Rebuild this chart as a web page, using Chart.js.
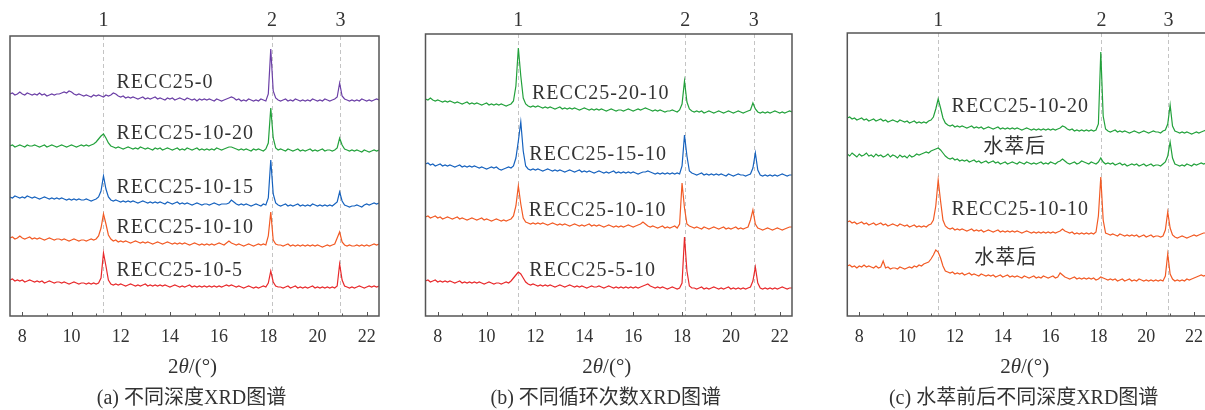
<!DOCTYPE html>
<html>
<head>
<meta charset="utf-8">
<script src="https://cdn.jsdelivr.net/npm/chart.js@4.4.1/dist/chart.umd.min.js"></script>
<style>
  html, body { margin: 0; padding: 0; background: #fff; overflow: hidden; width: 1205px; height: 410px; }
  .panel { position: absolute; top: 0; height: 410px; }
</style>
</head>
<body>
<div class="panel" style="left:0;width:400px"><canvas id="chartA" width="400" height="410"></canvas></div>
<div class="panel" style="left:410px;width:400px"><canvas id="chartB" width="400" height="410"></canvas></div>
<div class="panel" style="left:820px;width:400px"><canvas id="chartC" width="400" height="410"></canvas></div>
<script>
// 2theta grid (degrees)
const twoTheta = [
  7.5, 7.6, 7.7, 7.8, 7.9, 8.0, 8.1, 8.2, 8.3, 8.4,
  8.5, 8.6, 8.7, 8.8, 8.9, 9.0, 9.1, 9.2, 9.3, 9.4,
  9.5, 9.6, 9.7, 9.8, 9.9, 10.0, 10.1, 10.2, 10.3, 10.4,
  10.5, 10.6, 10.7, 10.8, 10.9, 11.0, 11.1, 11.2, 11.3, 11.4,
  11.5, 11.6, 11.7, 11.8, 11.9, 12.0, 12.1, 12.2, 12.3, 12.4,
  12.5, 12.6, 12.7, 12.8, 12.9, 13.0, 13.1, 13.2, 13.3, 13.4,
  13.5, 13.6, 13.7, 13.8, 13.9, 14.0, 14.1, 14.2, 14.3, 14.4,
  14.5, 14.6, 14.7, 14.8, 14.9, 15.0, 15.1, 15.2, 15.3, 15.4,
  15.5, 15.6, 15.7, 15.8, 15.9, 16.0, 16.1, 16.2, 16.3, 16.4,
  16.5, 16.6, 16.7, 16.8, 16.9, 17.0, 17.1, 17.2, 17.3, 17.4,
  17.5, 17.6, 17.7, 17.8, 17.9, 18.0, 18.1, 18.2, 18.3, 18.4,
  18.5, 18.6, 18.7, 18.8, 18.9, 19.0, 19.1, 19.2, 19.3, 19.4,
  19.5, 19.6, 19.7, 19.8, 19.9, 20.0, 20.1, 20.2, 20.3, 20.4,
  20.5, 20.6, 20.7, 20.8, 20.9, 21.0, 21.1, 21.2, 21.3, 21.4,
  21.5, 21.6, 21.7, 21.8, 21.9, 22.0, 22.1, 22.2, 22.3, 22.4,
  22.5
];
const xTicks = [8, 10, 12, 14, 16, 18, 20, 22];
const xMinorTicks = [9, 11, 13, 15, 17, 19, 21];
const peakNames = ["1", "2", "3"];

// (a) different depths, offset intensity
const aRecc0 = [
  222,223,221,222,224,222,221,223,222,221,
  222,221,223,221,222,220,221,222,221,222,
  222,223,224,223,225,224,222,221,222,221,
  220,221,220,219,221,220,221,220,219,221,
  220,221,223,222,220,219,220,218,219,218,
  219,218,217,218,219,217,218,217,218,219,
  217,218,217,216,218,217,218,216,217,218,
  217,216,218,217,216,217,215,217,216,217,
  216,217,216,215,217,216,215,216,217,218,
  219,218,216,217,215,216,215,217,216,215,
  216,215,217,216,215,222,267,225,218,216,
  215,216,217,215,216,215,217,216,215,216,
  215,216,215,217,216,215,216,215,217,216,
  215,216,217,219,233,220,217,216,215,216,
  215,216,215,217,216,215,216,215,216,217,
  216
];
const aRecc1020 = [
  170,171,169,170,171,170,169,171,170,170,
  171,170,169,170,171,169,170,171,170,169,
  170,171,170,169,170,171,170,169,170,171,
  170,171,170,171,172,174,177,180,182,178,
  173,170,169,168,169,168,167,168,169,168,
  167,168,167,169,168,167,168,167,166,168,
  167,168,166,167,168,167,166,167,168,166,
  167,166,168,167,166,167,168,166,167,166,
  167,166,167,166,168,167,166,167,168,169,
  169,168,167,166,167,166,167,166,165,167,
  166,167,166,165,167,173,208,178,168,166,
  167,166,165,167,166,165,166,167,165,166,
  165,166,167,165,166,165,166,167,165,166,
  166,165,166,168,178,171,167,166,165,166,
  165,166,165,164,166,165,164,165,166,165,
  166
];
const aRecc1015 = [
  119,118,120,119,118,119,118,120,119,118,
  119,118,117,118,119,118,117,118,117,118,
  117,118,117,116,117,116,117,116,117,116,
  116,117,116,115,116,117,119,125,140,127,
  119,116,115,116,115,114,115,114,115,114,
  115,114,113,114,115,114,113,114,113,114,
  113,114,113,112,114,113,112,113,114,112,
  113,112,113,112,111,112,113,112,111,112,
  112,111,112,113,112,111,112,112,112,113,
  116,114,112,111,112,111,112,111,110,111,
  112,111,110,112,111,118,156,122,113,111,
  110,111,112,110,111,110,111,112,110,111,
  110,111,110,112,111,110,111,110,111,110,
  111,110,112,114,124,115,111,110,109,110,
  110,111,110,109,111,112,111,112,113,112,
  113
];
const aRecc1010 = [
  78,79,77,78,80,78,77,78,79,77,
  78,77,78,77,76,77,78,77,76,77,
  77,76,77,76,75,76,77,76,75,76,
  76,75,76,77,76,77,80,88,102,92,
  81,77,75,76,74,75,74,75,74,73,
  74,75,74,73,74,73,74,73,72,73,
  74,73,72,73,74,73,72,73,72,73,
  72,73,72,71,72,73,72,71,72,71,
  72,71,72,71,72,73,72,71,73,75,
  73,72,71,72,71,70,71,72,71,70,
  71,72,71,72,71,80,104,76,72,71,
  71,70,71,72,70,71,70,71,70,71,
  70,71,70,71,70,71,70,69,70,71,
  70,71,72,78,84,74,71,70,71,70,
  70,71,70,71,70,71,70,71,72,71,
  72
];
const aRecc105 = [
  36,37,35,36,35,36,34,35,36,35,
  34,35,34,35,33,34,35,34,33,34,
  34,33,34,33,32,33,34,33,32,33,
  33,32,33,32,33,32,33,38,63,50,
  36,32,31,32,31,32,31,30,31,32,
  31,30,31,30,31,32,30,31,30,31,
  30,31,30,31,30,29,30,31,30,29,
  30,29,30,31,29,30,29,30,29,30,
  29,30,29,30,29,30,29,30,31,30,
  31,30,29,30,29,28,29,30,29,28,
  29,28,29,30,29,33,45,34,30,29,
  29,28,29,30,28,29,30,28,29,28,
  29,28,29,30,28,29,28,29,28,29,
  28,29,28,30,52,36,30,29,28,29,
  28,29,30,29,28,29,30,29,30,29,
  30
];

// (b) different cycle numbers
const bRecc2010 = [
  217,216,218,216,215,216,215,214,215,214,
  215,214,213,214,213,212,213,214,212,213,
  212,213,212,211,212,213,211,212,211,212,
  211,212,211,210,211,212,215,230,268,240,
  218,212,210,209,210,209,210,209,208,209,
  208,209,208,207,208,209,207,208,207,208,
  207,208,207,206,207,208,207,206,207,206,
  207,206,207,206,205,206,207,206,205,206,
  206,205,206,207,206,205,206,207,206,207,
  208,207,206,205,206,205,206,205,204,205,
  205,206,205,204,206,212,235,214,207,205,
  204,205,204,205,203,204,205,204,203,204,
  205,204,203,204,205,204,203,204,205,204,
  203,204,205,206,213,207,204,203,204,203,
  204,203,204,205,204,203,204,203,204,205,
  204
];
const bRecc1510 = [
  152,153,151,152,150,151,152,150,151,150,
  151,150,149,150,151,149,150,149,150,149,
  150,149,148,149,148,147,148,149,148,149,
  147,146,147,148,149,148,150,158,175,194,
  165,150,147,146,147,146,147,146,145,146,
  147,146,145,146,145,146,145,144,145,146,
  145,144,145,146,144,145,144,145,144,143,
  144,145,144,143,144,143,144,145,143,144,
  143,144,143,144,143,144,143,142,143,144,
  144,145,144,143,142,143,142,143,142,143,
  142,143,142,143,142,150,181,160,145,143,
  142,141,142,143,141,142,141,142,141,142,
  141,142,141,140,142,141,140,141,142,141,
  141,140,141,142,148,163,146,141,140,141,
  140,141,140,141,140,141,142,141,140,141,
  141
];
const bRecc1010 = [
  99,100,98,99,100,98,99,97,98,99,
  98,97,98,99,97,98,97,96,97,98,
  97,96,97,98,96,97,96,95,96,97,
  96,95,96,95,96,97,100,110,130,112,
  98,94,93,92,93,92,93,92,93,92,
  91,92,93,92,91,92,91,92,91,90,
  91,92,91,90,91,90,91,92,90,91,
  90,91,90,89,90,91,90,89,90,89,
  90,89,90,91,90,89,90,91,92,94,
  92,90,89,90,89,88,89,90,88,89,
  88,89,90,88,92,133,108,92,90,89,
  88,89,88,87,89,88,87,88,89,88,
  87,88,89,87,88,87,88,89,87,88,
  87,88,89,96,106,92,88,87,86,87,
  88,87,86,87,88,87,86,87,88,89,
  89
];
const bRecc510 = [
  35,36,34,35,36,34,35,34,35,34,
  35,34,33,34,35,33,34,33,34,33,
  34,33,34,33,32,33,34,33,32,33,
  33,32,33,34,33,35,38,41,44,42,
  38,34,32,31,32,31,30,31,30,31,
  30,31,30,29,30,31,30,29,30,31,
  30,29,30,29,30,29,28,29,30,29,
  29,30,29,28,29,30,29,28,29,28,
  29,28,29,28,29,28,29,28,29,30,
  31,32,30,29,28,29,28,29,28,27,
  28,29,28,27,28,33,79,45,30,28,
  28,27,28,29,27,28,27,28,29,28,
  27,28,27,28,29,27,28,27,28,27,
  28,27,28,29,35,49,33,28,27,28,
  27,28,27,28,27,28,29,28,27,28,
  28
];

// (c) before / after water extraction
const cRecc1020 = [
  198,199,197,198,196,197,198,196,197,195,
  196,197,195,196,197,195,196,194,195,196,
  195,194,196,195,194,195,193,194,195,193,
  194,193,194,193,195,196,199,207,217,208,
  198,193,191,190,191,189,190,189,190,189,
  188,189,190,188,189,188,189,187,188,189,
  188,187,188,189,187,188,187,188,187,188,
  187,188,187,186,187,188,187,186,187,186,
  187,186,187,186,187,186,187,186,187,188,
  190,189,187,186,187,185,186,185,186,185,
  186,185,186,185,186,192,264,200,187,185,
  184,185,186,184,185,184,185,184,183,184,
  185,184,183,184,185,184,183,184,185,184,
  184,183,185,186,192,211,190,185,184,183,
  184,183,184,183,182,183,184,183,184,185,
  186
];
const cRecc1020Water = [
  162,160,163,161,159,162,160,161,163,160,
  161,159,162,160,161,159,160,162,159,161,
  160,158,161,159,160,158,161,159,160,162,
  161,162,163,164,163,165,166,167,168,166,
  163,160,158,157,158,156,157,155,156,155,
  156,154,155,156,154,155,153,154,155,153,
  154,155,153,154,152,153,154,152,153,154,
  153,152,154,153,152,154,153,152,153,152,
  153,154,152,153,152,154,153,152,154,155,
  157,155,153,152,153,154,152,153,155,154,
  153,152,154,153,152,154,158,154,152,153,
  152,153,151,152,153,151,152,150,151,152,
  151,152,150,151,152,150,151,152,150,151,
  151,150,152,154,160,174,158,152,151,150,
  151,150,152,151,150,152,151,152,153,152,
  153
];
const cRecc1010 = [
  94,95,93,94,92,93,94,92,93,91,
  92,93,91,92,93,91,92,90,91,92,
  91,90,92,91,90,91,89,90,91,89,
  90,89,90,89,91,92,96,110,136,115,
  96,90,88,87,88,86,87,86,87,86,
  85,86,87,85,86,85,86,84,85,86,
  85,84,85,86,84,85,84,85,84,85,
  84,85,84,83,84,85,84,83,84,83,
  84,83,84,83,84,83,84,83,84,85,
  87,85,84,83,84,82,83,82,83,82,
  83,82,83,82,84,100,139,96,83,82,
  81,82,81,80,82,81,80,81,80,81,
  80,81,79,80,81,79,80,81,79,80,
  80,79,80,86,104,88,81,79,78,79,
  80,79,78,79,80,81,80,81,82,83,
  83
];
const cRecc1010Water = [
  50,51,49,50,48,50,49,51,49,50,
  49,48,50,48,49,55,48,49,47,48,
  48,47,49,48,47,48,49,48,50,49,
  51,50,52,53,54,57,61,66,64,58,
  50,45,44,43,44,42,43,42,43,41,
  42,43,41,42,41,40,42,41,40,41,
  40,41,39,40,41,39,40,41,39,40,
  39,40,39,38,40,39,38,39,40,38,
  39,38,40,39,38,39,40,38,39,43,
  41,39,38,37,38,39,37,38,37,38,
  37,38,37,38,36,37,39,38,37,36,
  37,36,37,35,36,37,35,36,37,35,
  36,35,37,36,35,36,35,36,35,36,
  35,36,35,40,62,42,37,35,36,35,
  36,35,37,36,37,38,39,40,41,40,
  41
];

const purple = "#6B3FA6";
const green = "#22A13B";
const blue = "#1662BE";
const orange = "#F25A24";
const red = "#E8292B";

const serif = '"Liberation Serif", "Noto Sans CJK SC", serif';
const textColor = "#333";

function toPoints(values) {
  return twoTheta.map((x, i) => ({ x: x, y: values[i] }));
}

function trace(values, color) {
  return {
    data: toPoints(values),
    borderColor: color,
    borderWidth: 1.2,
    pointRadius: 0,
    tension: 0,
    fill: false,
  };
}

// frame, ticks, dashed peak markers and text
const xrdDecor = {
  id: "xrdDecor",
  beforeDatasetsDraw(chart, args, opts) {
    const { ctx, chartArea: area, scales } = chart;
    ctx.save();
    ctx.strokeStyle = "#c4c4c4";
    ctx.lineWidth = 1;
    ctx.setLineDash([4, 3]);
    opts.peaks.forEach((p) => {
      const px = Math.round(scales.x.getPixelForValue(p)) + 0.5;
      ctx.beginPath();
      ctx.moveTo(px, area.top);
      ctx.lineTo(px, area.bottom);
      ctx.stroke();
    });
    ctx.restore();
  },
  afterDatasetsDraw(chart, args, opts) {
    const { ctx, chartArea: area, scales } = chart;
    const x = scales.x, y = scales.y;
    ctx.save();

    // frame
    ctx.strokeStyle = "#555";
    ctx.lineWidth = 1.5;
    ctx.strokeRect(area.left, area.top, area.right - area.left, area.bottom - area.top);

    // inward ticks
    ctx.lineWidth = 1;
    xTicks.forEach((v) => {
      const px = Math.round(x.getPixelForValue(v)) + 0.5;
      ctx.beginPath(); ctx.moveTo(px, area.bottom); ctx.lineTo(px, area.bottom - 4); ctx.stroke();
    });
    xMinorTicks.forEach((v) => {
      const px = Math.round(x.getPixelForValue(v)) + 0.5;
      ctx.beginPath(); ctx.moveTo(px, area.bottom); ctx.lineTo(px, area.bottom - 2.5); ctx.stroke();
    });

    // peak numbers above the frame
    ctx.fillStyle = textColor;
    ctx.font = "20px " + serif;
    ctx.textAlign = "center";
    ctx.textBaseline = "middle";
    opts.peaks.forEach((p, i) => {
      ctx.fillText(peakNames[i], x.getPixelForValue(p), 21);
    });

    // sample names next to the traces
    ctx.textAlign = "left";
    ctx.font = "20px " + serif;
    ctx.letterSpacing = "1px";
    opts.labels.forEach((l) => {
      ctx.fillText(l.text, x.getPixelForValue(l.x), y.getPixelForValue(l.y));
    });
    ctx.letterSpacing = "0px";

    // axis title 2θ/(°)
    const cx = (area.left + area.right) / 2 - 2;
    const parts = [["2", "21px " + serif], ["θ", "italic 21px " + serif], ["/(°)", "21px " + serif]];
    let total = 0;
    parts.forEach((p) => { ctx.font = p[1]; total += ctx.measureText(p[0]).width; });
    let tx = cx - total / 2;
    parts.forEach((p) => {
      ctx.font = p[1];
      ctx.fillText(p[0], tx, 367);
      tx += ctx.measureText(p[0]).width;
    });

    // caption
    ctx.font = "20px " + serif;
    ctx.textAlign = "center";
    ctx.fillText(opts.caption, cx - 1, 399);
    ctx.restore();
  },
};

function makeChart(canvasId, datasets, pad, yMax, decor) {
  return new Chart(document.getElementById(canvasId), {
    type: "line",
    data: { datasets: datasets },
    options: {
      responsive: false,
      animation: false,
      layout: { padding: { left: pad.left, right: pad.right, top: pad.top, bottom: 0 } },
      plugins: { legend: { display: false }, tooltip: { enabled: false }, xrdDecor: decor },
      scales: {
        x: {
          type: "linear",
          min: 7.5,
          max: 22.5,
          border: { display: false },
          grid: { display: false },
          afterBuildTicks: (scale) => { scale.ticks = xTicks.map((v) => ({ value: v })); },
          afterFit: (scale) => { scale.height = 94; },
          ticks: {
            autoSkip: false,
            maxRotation: 0,
            padding: 2,
            color: textColor,
            font: { family: serif, size: 18 },
          },
        },
        y: { display: false, min: 0, max: yMax },
      },
    },
    plugins: [xrdDecor],
  });
}

makeChart("chartA",
  [trace(aRecc0, purple), trace(aRecc1020, green), trace(aRecc1015, blue), trace(aRecc1010, orange), trace(aRecc105, red)],
  { left: 10, right: 21, top: 36 }, 280,
  {
    peaks: [11.3, 18.15, 20.93],
    labels: [
      { text: "RECC25-0", x: 11.83, y: 233 },
      { text: "RECC25-10-20", x: 11.83, y: 182 },
      { text: "RECC25-10-15", x: 11.83, y: 128 },
      { text: "RECC25-10-10", x: 11.83, y: 88 },
      { text: "RECC25-10-5", x: 11.83, y: 45 },
    ],
    caption: "(a) 不同深度XRD图谱",
  });

makeChart("chartB",
  [trace(bRecc2010, green), trace(bRecc1510, blue), trace(bRecc1010, orange), trace(bRecc510, red)],
  { left: 15.5, right: 18, top: 34 }, 282,
  {
    peaks: [11.3, 18.13, 20.93],
    labels: [
      { text: "RECC25-20-10", x: 11.86, y: 222 },
      { text: "RECC25-15-10", x: 11.75, y: 161 },
      { text: "RECC25-10-10", x: 11.73, y: 105 },
      { text: "RECC25-5-10", x: 11.75, y: 45 },
    ],
    caption: "(b) 不同循环次数XRD图谱",
  });

makeChart("chartC",
  [trace(cRecc1020, green), trace(cRecc1020Water, green), trace(cRecc1010, orange), trace(cRecc1010Water, orange)],
  { left: 27.3, right: 14, top: 33 }, 283,
  {
    peaks: [11.3, 18.13, 20.93],
    labels: [
      { text: "RECC25-10-20", x: 11.86, y: 209 },
      { text: "水萃后", x: 13.18, y: 168 },
      { text: "RECC25-10-10", x: 11.86, y: 106 },
      { text: "水萃后", x: 12.81, y: 57 },
    ],
    caption: "(c) 水萃前后不同深度XRD图谱",
  });
</script>
</body>
</html>
